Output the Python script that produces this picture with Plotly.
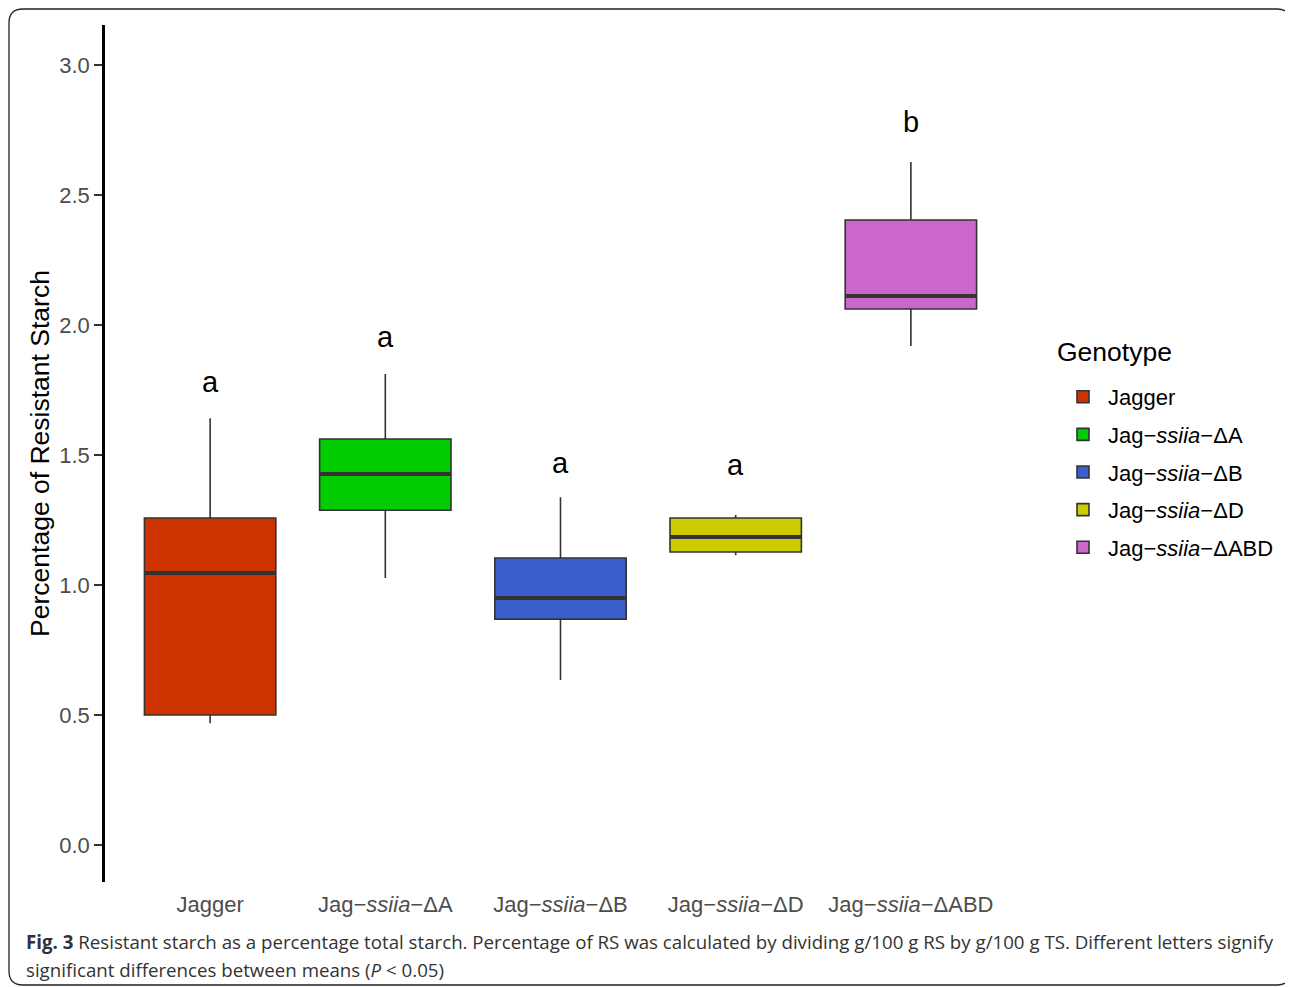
import plotly.graph_objects as go

# ---- data ----
genotypes = ["Jagger", "Jag−<i>ssiia</i>−ΔA", "Jag−<i>ssiia</i>−ΔB",
             "Jag−<i>ssiia</i>−ΔD", "Jag−<i>ssiia</i>−ΔABD"]
q1 = [0.50, 1.288, 0.869, 1.127, 2.062]
median = [1.046, 1.427, 0.950, 1.185, 2.112]
q3 = [1.258, 1.562, 1.104, 1.258, 2.404]
lower = [0.469, 1.027, 0.635, 1.115, 1.919]
upper = [1.642, 1.812, 1.338, 1.269, 2.627]
letters = ["a", "a", "a", "a", "b"]
letter_y = [1.78, 1.954, 1.469, 1.46, 2.78]
colors = ["#CC3300", "#00CC00", "#3A5FCD", "#CCCC00", "#CC66CC"]
y_ticks = [0.0, 0.5, 1.0, 1.5, 2.0, 2.5, 3.0]

OFF = 8  # page body margin
W, H = 1293, 987
ML, MT = 105 - OFF, 25 - OFF
PR, PB = 1016 - OFF, 882 - OFF
MR, MB = W - PR, H - PB
PW, PH = PR - ML, PB - MT

fig = go.Figure()
BW = 0.75
for i, g in enumerate(genotypes):
    fig.add_trace(go.Box(
        x=[i], q1=[q1[i]], median=[median[i]], q3=[q3[i]],
        lowerfence=[lower[i]], upperfence=[upper[i]],
        width=BW, whiskerwidth=0, fillcolor=colors[i],
        line=dict(color="#333333", width=1.6), name=g, legendgroup=f"g{i}",
        boxpoints=False, hoverinfo="skip"))
for i in range(len(genotypes)):
    fig.add_trace(go.Scatter(
        x=[i - BW / 2, i + BW / 2], y=[median[i], median[i]], mode="lines",
        line=dict(color="#333333", width=4), showlegend=False, hoverinfo="skip"))

for i, l in enumerate(letters):
    fig.add_annotation(x=i, y=letter_y[i], text=l, showarrow=False,
                       font=dict(size=29, color="black", family="Liberation Sans"))

def px2paper(px, py):
    # px, py are screen coords
    return (px - OFF - ML) / PW, (PB - (py - OFF)) / PH

caption_lines = [
    "<b>Fig. 3</b> Resistant starch as a percentage total starch. Percentage of RS was calculated by dividing g/100 g RS by g/100 g TS. Different letters signify",
    "significant differences between means (<i>P</i> &lt; 0.05)",
]
for k, (line, py) in enumerate(zip(caption_lines, [942, 969])):
    cx, cy = px2paper(24, py)
    fig.add_annotation(xref="paper", yref="paper", x=cx, y=cy, xanchor="left", yanchor="middle",
                       align="left", showarrow=False, text=line,
                       font=dict(size=18.7, color="#333333", family="Open Sans"))

# legend title
tx, ty = px2paper(1055, 352)
fig.add_annotation(xref="paper", yref="paper", x=tx, y=ty, xanchor="left", yanchor="middle",
                   showarrow=False, text="Genotype",
                   font=dict(size=26.5, color="black", family="Liberation Sans"))

# rounded outer border
r = 14
x0, y0, x1, y1 = 9, 9, 1291, 985
def P(px, py):
    a, b = px2paper(px, py)
    return f"{a:.5f},{b:.5f}"
path = (f"M {P(x0+r,y0)} L {P(x1-r,y0)} Q {P(x1,y0)} {P(x1,y0+r)} L {P(x1,y1-r)} "
        f"Q {P(x1,y1)} {P(x1-r,y1)} L {P(x0+r,y1)} Q {P(x0,y1)} {P(x0,y1-r)} "
        f"L {P(x0,y0+r)} Q {P(x0,y0)} {P(x0+r,y0)} Z")
fig.add_shape(type="path", xref="paper", yref="paper", path=path,
              line=dict(color="#222222", width=1.3))

lx, ly = px2paper(1058, 376)
fig.update_layout(
    width=W, height=H, margin=dict(l=ML, r=MR, t=MT, b=MB, autoexpand=False),
    plot_bgcolor="white", paper_bgcolor="white",
    font=dict(family="Liberation Sans", color="black"),
    showlegend=True,
    legend=dict(
        font=dict(size=22, color="black"),
        x=lx, y=ly, xanchor="left", yanchor="top",
        tracegroupgap=6, itemwidth=40,
    ),
    xaxis=dict(range=[-0.6, 4.6], tickvals=list(range(len(genotypes))), ticktext=genotypes,
               showgrid=False, zeroline=False, showline=False,
               ticks="outside", ticklen=3, tickcolor="rgba(0,0,0,0)",
               tickfont=dict(size=22, color="#4d4d4d")),
    yaxis=dict(range=[-0.142, 3.154], tickvals=y_ticks,
               ticktext=[f"{v:.1f}" for v in y_ticks],
               showgrid=False, zeroline=False, showline=True, linecolor="black", linewidth=2.5,
               ticks="outside", ticklen=8, tickwidth=1.5, tickcolor="#333333",
               tickfont=dict(size=22, color="#4d4d4d"),
               title=dict(text="Percentage of Resistant Starch", font=dict(size=26.5, color="black"),
                          standoff=2)),
)

fig.write_html("out.html")
